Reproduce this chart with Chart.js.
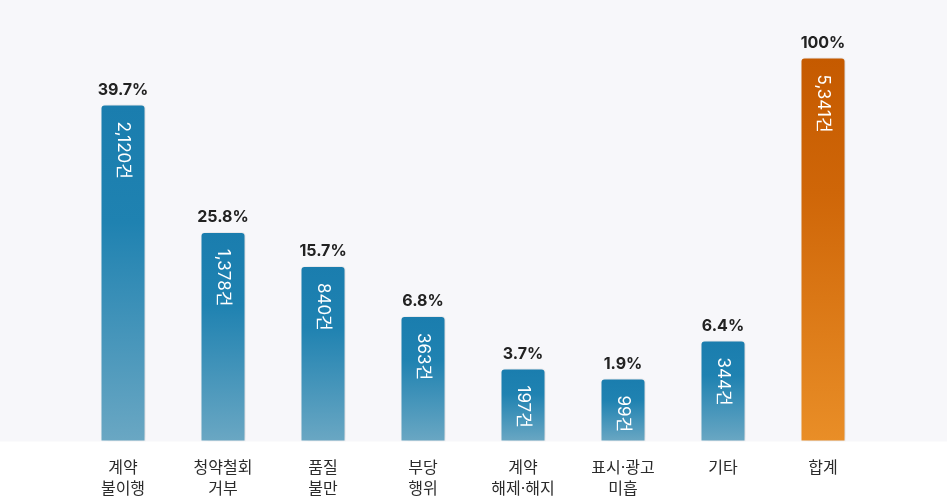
<!DOCTYPE html>
<html><head><meta charset="utf-8">
<script src="https://cdn.jsdelivr.net/npm/chart.js@4"></script>
<style>html,body{margin:0;padding:0;background:#fff;}#wrap{width:947px;height:500px;}</style>
</head><body><div id="wrap"><canvas id="c" width="947" height="500"></canvas></div>
<script>
const categories = [["계약","불이행"],["청약철회","거부"],["품질","불만"],["부당","행위"],["계약","해제·해지"],["표시·광고","미흡"],["기타"],["합계"]];
const counts = ["2,120건","1,378건","840건","363건","197건","99건","344건","5,341건"];
const percents = ["39.7%","25.8%","15.7%","6.8%","3.7%","1.9%","6.4%","100%"];
const barHeights = [84.25, 52.4, 43.9, 31.4, 18.25, 15.75, 25.25, 96];
const isTotal = [false,false,false,false,false,false,false,true];

const FONT = "Inter, 'Noto Sans CJK KR', 'Noto Sans', sans-serif";

function barFill(ctx){
  const chart = ctx.chart; const ca = chart.chartArea;
  if(!ca) return '#1e81b0';
  const y = chart.scales.y.getPixelForValue(ctx.raw);
  const g = chart.ctx.createLinearGradient(0, y, 0, ca.bottom);
  if(isTotal[ctx.dataIndex]){
    g.addColorStop(0,'#c55a00'); g.addColorStop(0.35,'#cf6608'); g.addColorStop(1,'#e98e27');
  } else {
    g.addColorStop(0,'#1a7dae'); g.addColorStop(0.35,'#1f82b1'); g.addColorStop(1,'#6aa7c3');
  }
  return g;
}

const bgPlugin = {
  id:'bg',
  beforeDraw(chart){
    const c = chart.ctx;
    c.save(); c.fillStyle='#f7f7fa';
    c.fillRect(0,0,chart.width,chart.chartArea.bottom);
    c.restore();
  },
  beforeDatasetsDraw(chart){
    const c = chart.ctx; c.save();
    c.shadowColor='rgba(0,0,0,0.14)'; c.shadowBlur=7; c.shadowOffsetX=3; c.shadowOffsetY=0;
  },
  afterDatasetsDraw(chart){
    const c = chart.ctx; c.restore();
    const meta = chart.getDatasetMeta(0);
    meta.data.forEach((bar,i)=>{
      c.save();
      c.fillStyle='#222';
      c.font = "bold 16px " + FONT;
      c.textAlign='center'; c.textBaseline='alphabetic';
      c.fillText(percents[i], bar.x, bar.y - 9.5);
      c.restore();
      c.save();
      c.translate(bar.x, bar.y + 17);
      c.rotate(Math.PI/2);
      c.fillStyle='#ffffff';
      c.font = "17px " + FONT;
      c.textAlign='left'; c.textBaseline='middle';
      c.fillText(counts[i], 0, 0);
      c.restore();
    });
  }
};

new Chart(document.getElementById('c'), {
  type:'bar',
  data:{ labels: categories, datasets:[{ data: barHeights, backgroundColor: barFill,
    borderColor:'rgba(255,255,255,0.22)', borderWidth:1,
    borderRadius:{topLeft:4, topRight:4, bottomLeft:0, bottomRight:0}, borderSkipped:false,
    barPercentage:0.45, categoryPercentage:1 }]},
  options:{
    responsive:false, animation:false,
    layout:{ padding:{ left:73, right:74, top:41.5, bottom:0 } },
    plugins:{ legend:{display:false}, tooltip:{enabled:false} },
    scales:{
      y:{ display:false, min:0, max:100 },
      x:{ grid:{display:false}, border:{display:false},
          afterFit(scale){ scale.height = 58.5; },
          ticks:{ color:'#2b2b2b', padding:8.5, font:{ size:16, family:FONT, lineHeight:1.3 }, maxRotation:0 } }
    }
  },
  plugins:[bgPlugin]
});
</script></body></html>
